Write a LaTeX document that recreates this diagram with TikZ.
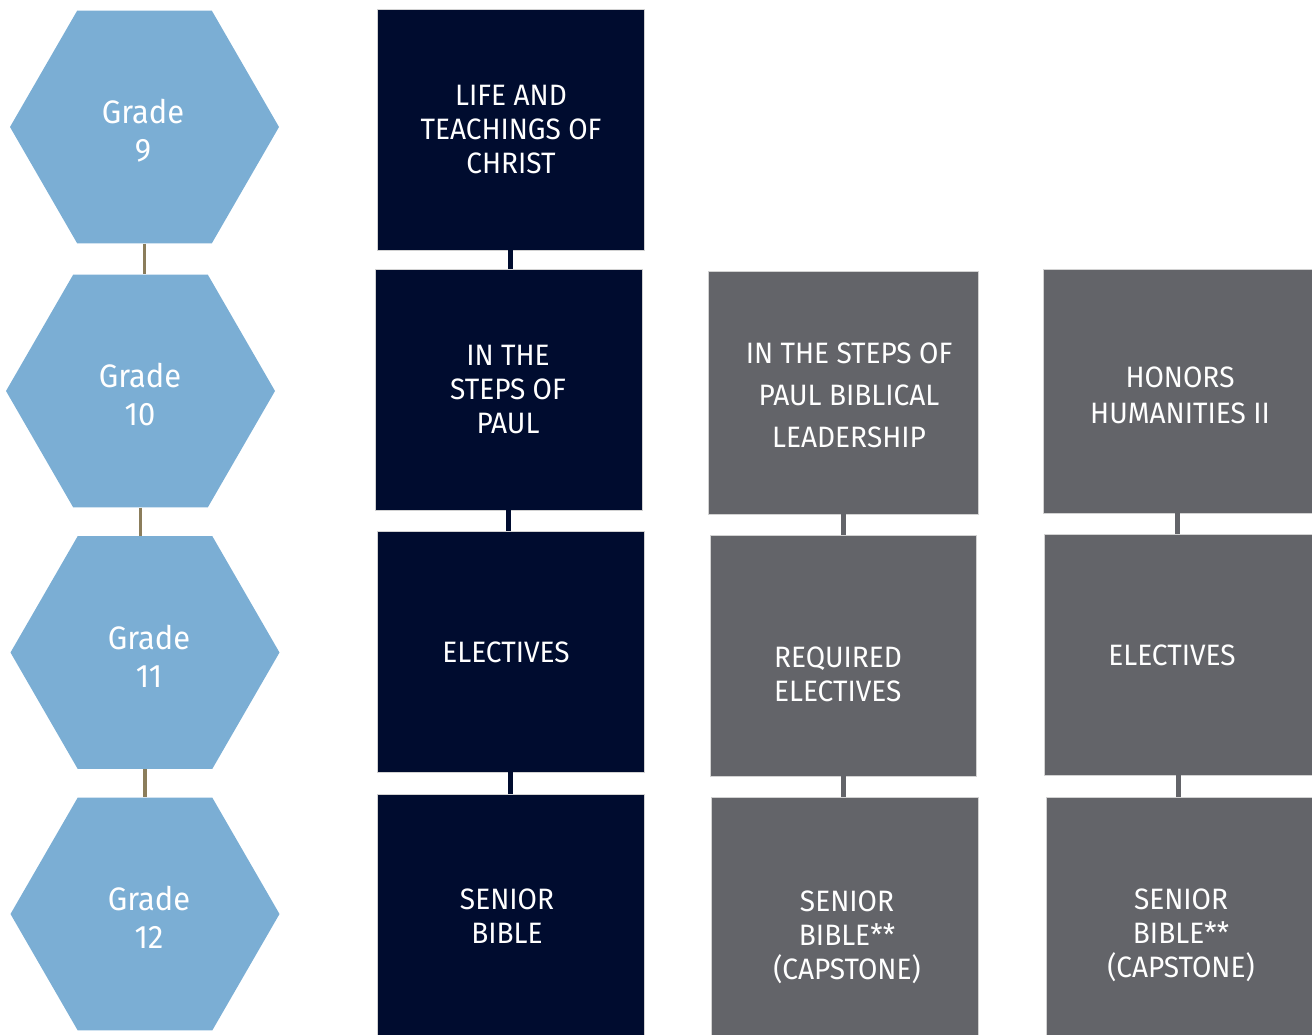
\documentclass[tikz,border=0pt]{standalone}
\usepackage{fontspec}
\setmainfont{Fira Sans}[FakeStretch=0.95]
\usetikzlibrary{shapes.geometric,calc}
\definecolor{navy}{HTML}{000C2F}
\definecolor{slate}{HTML}{636469}
\definecolor{hexblue}{HTML}{7BAED4}
\definecolor{olive}{HTML}{8B7D5B}
\tikzset{
  hexa/.style={regular polygon, regular polygon sides=6, minimum size=269pt, inner sep=0pt, fill=hexblue, draw=none},
  hextext/.style={text=white, align=center, font=\fontsize{32.5}{38}\selectfont},
  navybox/.style={rectangle, fill=navy, draw=gray!35, line width=0.8pt, inner sep=0pt},
  slatebox/.style={rectangle, fill=slate, draw=gray!35, line width=0.8pt, inner sep=0pt},
  boxtext/.style={text=white, align=center, font=\fontsize{29.5}{34}\selectfont},
  hexlink/.style={draw=olive, line width=3.5pt},
  navylink/.style={draw=navy, line width=5pt},
  slatelink/.style={draw=slate, line width=5pt},
}
\begin{document}
\begin{tikzpicture}[x=1pt,y=-1pt]
\useasboundingbox (0,0) rectangle (1312,1034);
% hexagons
\node[hexa] (h9)  at (144.5,127) {};
\node[hexa] (h10) at (140.5,391) {};
\node[hexa] (h11) at (145,652.5) {};
\node[hexa] (h12) at (145,914) {};
\draw[hexlink] (h9.south) -- (h9.south |- h10.north);
\draw[hexlink] (h10.south) -- (h10.south |- h11.north);
\draw[hexlink] (h11.south) -- (h11.south |- h12.north);
\node[hextext] (g9)  at (143,131) {Grade\\9};
\node[hextext] (g10) at (140,394) {Grade\\10};
\node[hextext] (g11) at (149,656) {Grade\\11};
\node[hextext] (g12) at (149,917) {Grade\\12};
% column 1 (navy)
\node[navybox, minimum width=267pt, minimum height=241pt] (a1) at (510.5,129.5) {};
\node[navybox, minimum width=267pt, minimum height=241pt] (a2) at (508.5,389.5) {};
\node[navybox, minimum width=267pt, minimum height=241pt] (a3) at (510.5,651.5) {};
\node[navybox, minimum width=267pt, minimum height=242pt] (a4) at (510.5,915) {};
\draw[navylink] (a1.south) -- (a1.south |- a2.north);
\draw[navylink] (a2.south) -- (a2.south |- a3.north);
\draw[navylink] (a3.south) -- (a3.south |- a4.north);
\node[boxtext] (ta1) at (511,130) {LIFE AND\\TEACHINGS OF\\CHRIST};
\node[boxtext] (ta2) at (508,390) {IN THE\\STEPS OF\\PAUL};
\node[boxtext] (ta3) at (506,652) {ELECTIVES};
\node[boxtext] (ta4) at (507,916) {SENIOR\\BIBLE};
% column 2 (slate)
\node[slatebox, minimum width=270pt, minimum height=243pt] (b1) at (843,392.5) {};
\node[slatebox, minimum width=266pt, minimum height=241pt] (b2) at (843,655.5) {};
\node[slatebox, minimum width=267pt, minimum height=242pt] (b3) at (844.5,918) {};
\draw[slatelink] (b1.south) -- (b1.south |- b2.north);
\draw[slatelink] (b2.south) -- (b2.south |- b3.north);
\node[boxtext, font=\fontsize{29.5}{42}\selectfont] (tb1) at (849,395) {IN THE STEPS OF\\PAUL BIBLICAL\\LEADERSHIP};
\node[boxtext, align=left] (tb2) at (838,674) {REQUIRED\\ELECTIVES};
\node[boxtext] (tb3) at (847,937) {SENIOR\\BIBLE**\\(CAPSTONE)};
% column 3 (slate)
\node[slatebox, minimum width=269pt, minimum height=244pt] (c1) at (1177.5,391) {};
\node[slatebox, minimum width=268pt, minimum height=241pt] (c2) at (1178,654.5) {};
\node[slatebox, minimum width=266pt, minimum height=242pt] (c3) at (1179,918) {};
\draw[slatelink] (c1.south) -- (c1.south |- c2.north);
\draw[slatelink] (c2.south) -- (c2.south |- c3.north);
\node[boxtext, font=\fontsize{29.5}{36}\selectfont] (tc1) at (1180,395) {HONORS\\HUMANITIES II};
\node[boxtext] (tc2) at (1172,655) {ELECTIVES};
\node[boxtext] (tc3) at (1181,935) {SENIOR\\BIBLE**\\(CAPSTONE)};
\end{tikzpicture}
\end{document}
